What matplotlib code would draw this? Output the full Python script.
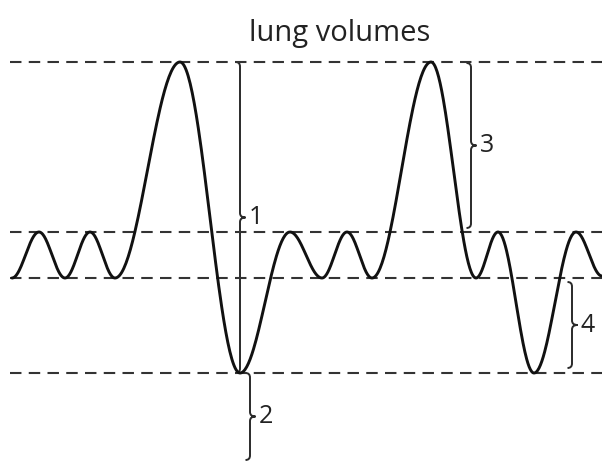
import matplotlib
matplotlib.use("Agg")
import matplotlib.pyplot as plt
import numpy as np
from matplotlib.path import Path
from matplotlib.patches import PathPatch

# reference levels (arbitrary volume units)
levels = [4.00, 2.30, 1.84, 0.89]

# turning points of the spirogram trace
turn_t = [0.12, 0.39, 0.65, 0.90, 1.15, 1.80, 2.40, 2.90, 3.22, 3.47, 3.72,
          4.31, 4.76, 4.98, 5.34, 5.76, 6.02]
turn_v = [1.84, 2.30, 1.84, 2.30, 1.84, 4.00, 0.89, 2.30, 1.84, 2.30, 1.84,
          4.00, 1.84, 2.30, 0.89, 2.30, 1.86]

# braces: x, bottom, top, label
brace_x = [2.40, 2.50, 4.71, 5.72]
brace_lo = [0.89, 0.02, 2.34, 0.94]
brace_hi = [4.00, 0.89, 3.99, 1.80]
brace_labels = ["1", "2", "3", "4"]


def trace(ts, vs, n=60):
    xs, ys = [], []
    for i in range(len(ts) - 1):
        s = np.linspace(0, 1, n)
        w = (1 - np.cos(np.pi * s)) / 2
        xs.append(ts[i] + (ts[i + 1] - ts[i]) * s)
        ys.append(vs[i] + (vs[i + 1] - vs[i]) * w)
    return np.concatenate(xs), np.concatenate(ys)


def brace(ax, x, lo, hi, label):
    mid = (lo + hi) / 2
    c = 0.045
    h = 0.055
    verts = [(x - c, hi), (x, hi), (x, hi - c),
             (x, mid + c), (x, mid), (x + h, mid),
             (x, mid), (x, mid - c),
             (x, lo + c), (x, lo), (x - c, lo)]
    codes = [Path.MOVETO, Path.CURVE3, Path.CURVE3,
             Path.LINETO, Path.CURVE3, Path.CURVE3,
             Path.CURVE3, Path.CURVE3,
             Path.LINETO, Path.CURVE3, Path.CURVE3]
    ax.add_patch(PathPatch(Path(verts, codes), fill=False, lw=1.4,
                           edgecolor="#2a2a2a", capstyle="butt"))
    ax.text(x + h + 0.03, mid, label, fontsize=18, family="Open Sans",
            va="center", ha="left", color="#222222")


fig = plt.figure(figsize=(6.02, 4.62), dpi=100)
ax = fig.add_axes([0, 0, 1, 1])
ax.set_xlim(0, 6.02)
ax.set_ylim(0, 4.62)
ax.axis("off")

for lv in levels:
    ax.plot([0.10, 6.02], [lv, lv], color="#333333", lw=1.5,
            dashes=(5.5, 3.5))

x, y = trace(turn_t, turn_v)
ax.plot(x, y, color="#111111", lw=2.1, solid_capstyle="round")

for bx, lo, hi, lab in zip(brace_x, brace_lo, brace_hi, brace_labels):
    brace(ax, bx, lo, hi, lab)

ax.text(3.40, 4.29, "lung volumes", fontsize=21, family="Open Sans",
        ha="center", va="center", color="#222222")

fig.savefig("out.png", dpi=100)
